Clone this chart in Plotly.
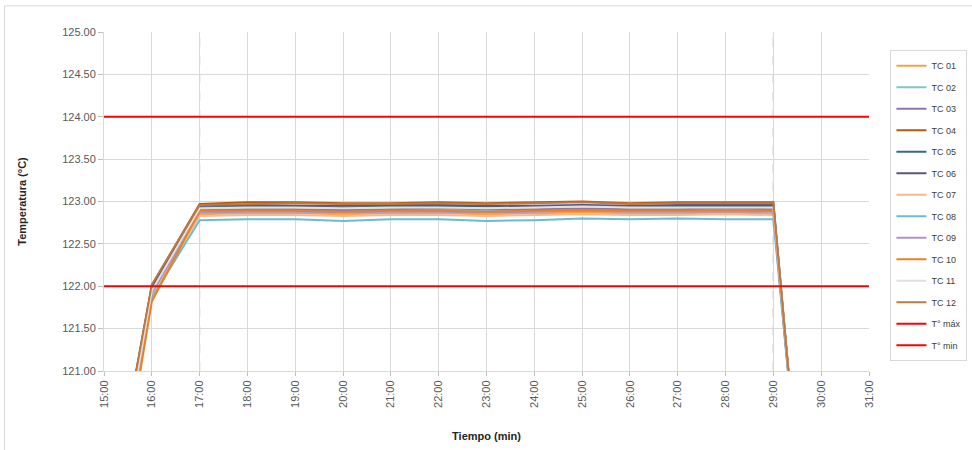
import plotly.graph_objects as go

# Time axis (minutes) and tick labels
minutes = [15, 16, 17, 18, 19, 20, 21, 22, 23, 24, 25, 26, 27, 28, 29, 30]
tick_minutes = list(range(15, 32))
tick_labels = [f"{m}:00" for m in tick_minutes]

# Thermocouple readings (°C) at each minute
tc01 = [118.6, 121.90, 122.85, 122.86, 122.86, 122.85, 122.86, 122.86, 122.85, 122.86, 122.87, 122.86, 122.86, 122.87, 122.86, 116.8]
tc02 = [118.7, 121.93, 122.88, 122.90, 122.90, 122.89, 122.90, 122.90, 122.89, 122.90, 122.91, 122.90, 122.90, 122.91, 122.90, 116.8]
tc03 = [118.8, 121.95, 122.90, 122.91, 122.91, 122.90, 122.91, 122.92, 122.91, 122.91, 122.92, 122.91, 122.91, 122.92, 122.91, 116.7]
tc04 = [118.9, 122.01, 122.97, 122.99, 122.99, 122.98, 122.98, 122.99, 122.98, 122.99, 123.00, 122.98, 122.99, 122.99, 122.99, 116.7]
tc05 = [118.8, 121.98, 122.93, 122.94, 122.94, 122.93, 122.94, 122.95, 122.94, 122.94, 122.95, 122.94, 122.94, 122.95, 122.94, 116.7]
tc06 = [118.9, 121.99, 122.95, 122.96, 122.95, 122.95, 122.96, 122.96, 122.95, 122.95, 122.96, 122.95, 122.96, 122.96, 122.96, 116.7]
tc07 = [118.6, 121.88, 122.83, 122.84, 122.84, 122.83, 122.84, 122.84, 122.83, 122.84, 122.85, 122.84, 122.84, 122.85, 122.84, 116.8]
tc08 = [118.5, 121.86, 122.78, 122.79, 122.79, 122.77, 122.79, 122.79, 122.77, 122.78, 122.80, 122.79, 122.80, 122.79, 122.79, 116.9]
tc09 = [118.6, 121.92, 122.87, 122.88, 122.88, 122.87, 122.88, 122.88, 122.87, 122.88, 122.89, 122.88, 122.88, 122.88, 122.88, 116.8]
tc10 = [118.4, 121.82, 122.89, 122.89, 122.89, 122.88, 122.89, 122.89, 122.88, 122.89, 122.90, 122.89, 122.89, 122.90, 122.89, 116.9]
tc11 = [118.7, 121.95, 122.92, 122.93, 122.93, 122.92, 122.93, 122.93, 122.92, 122.93, 122.94, 122.93, 122.93, 122.93, 122.93, 116.8]
tc12 = [118.9, 122.02, 122.96, 122.97, 122.98, 122.97, 122.97, 122.98, 122.97, 122.98, 122.99, 122.97, 122.98, 122.98, 122.98, 116.7]

series_names = ["TC 01", "TC 02", "TC 03", "TC 04", "TC 05", "TC 06",
                "TC 07", "TC 08", "TC 09", "TC 10", "TC 11", "TC 12"]
series_values = [tc01, tc02, tc03, tc04, tc05, tc06, tc07, tc08, tc09, tc10, tc11, tc12]
series_colors = ["#F9A04A", "#7FC4D8", "#8B77B0", "#B9570F", "#2E6F80", "#5F5475",
                 "#F8B98A", "#6BBCD2", "#A896CC", "#F07F1E", "#E0E0E0", "#B97A46"]

# Temperature limits
t_max = 124.0
t_min = 122.0
limit_x = [15, 31]

# Holding period boundaries
hold_start = 17
hold_end = 29

fig = go.Figure()

for i, (name, vals, col) in enumerate(zip(series_names, series_values, series_colors)):
    fig.add_trace(go.Scatter(
        x=minutes, y=vals, name=name, mode="lines",
        line=dict(color=col, width=2), legendgroup=f"g{i}",
    ))

fig.add_trace(go.Scatter(x=limit_x, y=[t_max, t_max], name="T° máx", mode="lines",
                         line=dict(color="#FF0000", width=2), legendgroup="gmax"))
fig.add_trace(go.Scatter(x=limit_x, y=[t_min, t_min], name="T° min", mode="lines",
                         line=dict(color="#FF0000", width=2), legendgroup="gmin"))

# Dashed markers for the holding period
fig.add_shape(type="line", xref="x", yref="paper", x0=hold_start, x1=hold_start, y0=0, y1=1,
              line=dict(color="#9A9A9A", width=1, dash="dash"), layer="below")
fig.add_shape(type="line", xref="x", yref="paper", x0=hold_end, x1=hold_end, y0=0, y1=1,
              line=dict(color="#404040", width=1, dash="dash"), layer="below")

# Chart-area frame
fig.add_shape(type="rect", xref="paper", yref="paper",
              x0=-0.130, x1=1.2, y0=-0.3, y1=1.077,
              line=dict(color="#D9D9D9", width=1), fillcolor="rgba(0,0,0,0)")

fig.update_layout(
    width=972, height=450,
    margin=dict(l=104, r=103, t=32, b=79, autoexpand=False),
    paper_bgcolor="white", plot_bgcolor="white",
    font=dict(family="Liberation Sans, Arial, sans-serif", color="#595959", size=11),
    showlegend=True,
    legend=dict(
        x=1.028, y=0.946, xanchor="left", yanchor="top",
        bordercolor="#D9D9D9", borderwidth=1, bgcolor="white",
        font=dict(size=9, color="#404040"),
        tracegroupgap=2.5, itemwidth=30,
    ),
    xaxis=dict(
        range=[15, 31], tickmode="array", tickvals=tick_minutes, ticktext=tick_labels,
        tickangle=-90, showgrid=True, gridcolor="#D9D9D9", gridwidth=1,
        showline=True, linecolor="#D9D9D9", ticks="outside", ticklen=4, tickcolor="#BFBFBF",
        zeroline=False, tickfont=dict(size=11, color="#595959"),
        title=dict(text="<b>Tiempo (min)</b>", font=dict(size=11, color="#262626"), standoff=25),
    ),
    yaxis=dict(
        range=[121, 125], dtick=0.5, tickformat=".2f",
        showgrid=True, gridcolor="#D9D9D9", gridwidth=1,
        showline=True, linecolor="#D9D9D9", ticks="outside", ticklen=5, tickcolor="#BFBFBF",
        zeroline=False, tickfont=dict(size=11, color="#595959"),
        title=dict(text="<b>Temperatura (°C)</b>", font=dict(size=11, color="#262626"), standoff=33),
    ),
)

fig.write_html("out.html")
